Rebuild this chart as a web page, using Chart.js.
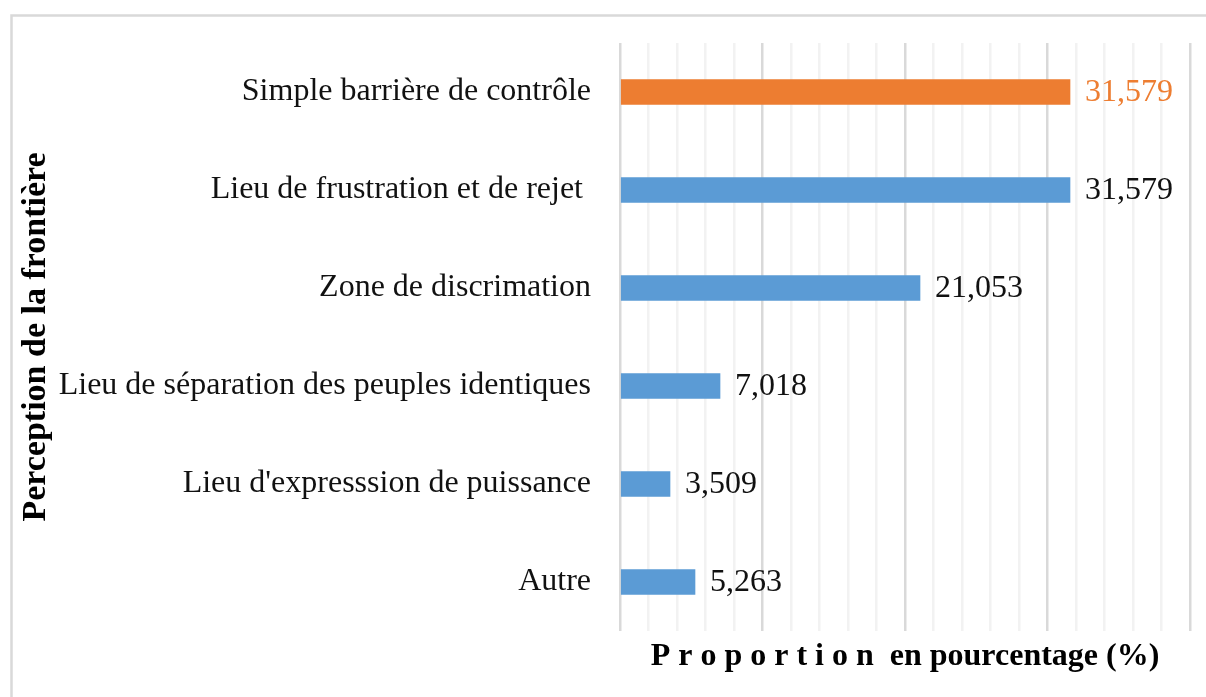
<!DOCTYPE html>
<html lang="fr">
<head>
<meta charset="UTF-8">
<title>Perception de la frontière</title>
<script src="https://cdn.jsdelivr.net/npm/chart.js@4/dist/chart.umd.min.js"></script>
<style>
    html, body {
        margin: 0;
        padding: 0;
        background: #fff;
    }
    #wrap {
        width: 1206px;
        height: 697px;
        position: relative;
    }
</style>
</head>
<body>
<div id="wrap"><canvas id="chart"></canvas></div>
<script>
    // Perception de la frontière (proportion en %)
    const categories = [
        'Simple barrière de contrôle',
        'Lieu de frustration et de rejet ',
        'Zone de discrimation',
        'Lieu de séparation des peuples identiques',
        "Lieu d'expresssion de puissance",
        'Autre'
    ];
    const proportions = [31.579, 31.579, 21.053, 7.018, 3.509, 5.263];
    const axisMin = 0;
    const axisMax = 40;
    const axisStep = 2;

    const BLUE = '#5b9bd5';
    const ORANGE = '#ed7d31';
    const SERIF = '"Liberation Serif", "Times New Roman", serif';

    // first bar is highlighted in orange
    const barColors = proportions.map((v, i) => i === 0 ? ORANGE : BLUE);

    // light frame around the figure (top and left edges show)
    const frame = {
        id: 'frame',
        beforeDraw(chart) {
            const ctx = chart.ctx;
            ctx.save();
            ctx.strokeStyle = '#d9d9d9';
            ctx.lineWidth = 2.5;
            ctx.beginPath();
            ctx.moveTo(11.5, chart.height + 5);
            ctx.lineTo(11.5, 15.5);
            ctx.lineTo(chart.width + 5, 15.5);
            ctx.stroke();
            ctx.restore();
        }
    };

    // value written right of each bar, decimal comma
    const valueLabels = {
        id: 'valueLabels',
        afterDatasetsDraw(chart) {
            const ctx = chart.ctx;
            const meta = chart.getDatasetMeta(0);
            ctx.save();
            ctx.font = '32px ' + SERIF;
            ctx.textBaseline = 'middle';
            ctx.textAlign = 'left';
            meta.data.forEach((bar, i) => {
                const v = chart.data.datasets[0].data[i];
                ctx.fillStyle = i === 0 ? ORANGE : '#111';
                ctx.fillText(v.toFixed(3).replace('.', ','), bar.x + 15, bar.y + 1);
            });
            ctx.restore();
        }
    };

    new Chart(document.getElementById('chart'), {
        type: 'bar',
        data: {
            labels: categories,
            datasets: [{
                data: proportions,
                backgroundColor: barColors,
                borderWidth: 0,
                barThickness: 25
            }]
        },
        options: {
            indexAxis: 'y',
            responsive: true,
            maintainAspectRatio: false,
            animation: false,
            layout: {
                padding: { top: 43, right: 16, bottom: 0, left: 0 }
            },
            plugins: {
                legend: { display: false },
                tooltip: { enabled: false }
            },
            scales: {
                x: {
                    min: axisMin,
                    max: axisMax,
                    ticks: { display: false, stepSize: axisStep },
                    grid: {
                        drawTicks: false,
                        lineWidth: 2.5,
                        color: c => (c.tick && c.tick.value % 10 === 0) ? '#d9d9d9' : '#f2f2f2'
                    },
                    border: { display: false },
                    title: {
                        display: true,
                        text: 'P r o p o r t i o n  en pourcentage (%)',
                        color: '#000',
                        font: { family: SERIF, size: 32, weight: 'bold' },
                        padding: { top: 0, bottom: 21 }
                    },
                    afterFit(scale) { scale.height = 66; }
                },
                y: {
                    ticks: {
                        color: '#111',
                        padding: 29,
                        font: { family: SERIF, size: 32 }
                    },
                    grid: { display: false, drawTicks: false },
                    border: { display: false },
                    title: {
                        display: true,
                        text: 'Perception de la frontière',
                        color: '#000',
                        font: { family: SERIF, size: 34, weight: 'bold' },
                        padding: { top: 16, bottom: 0 }
                    },
                    afterFit(scale) {
                        scale.width = 620;
                        // labels sit mid-band, no extra room needed above/below
                        scale.paddingTop = 0;
                        scale.paddingBottom = 0;
                    }
                }
            }
        },
        plugins: [frame, valueLabels]
    });
</script>
</body>
</html>
